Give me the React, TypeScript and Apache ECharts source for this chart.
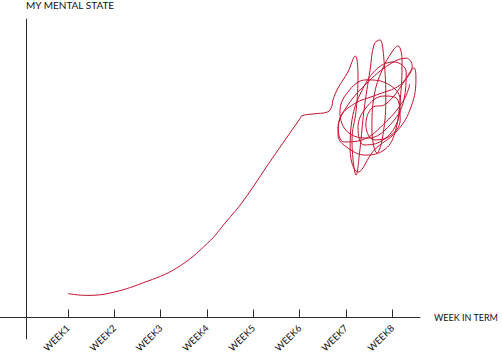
import React, { useEffect, useRef } from "react";
import * as echarts from "echarts";

// Tick labels along the x axis (weeks of term)
const weekTicks = [1, 2, 3, 4, 5, 6, 7, 8];
const weekLabels = ["WEEK1", "WEEK2", "WEEK3", "WEEK4", "WEEK5", "WEEK6", "WEEK7", "WEEK8"];

// Smooth rise: [week, mental state]
const riseWeeks = [1.0, 1.4, 1.91, 2.62, 3.35, 4.02, 4.41, 4.78, 5.4, 6.01, 6.05, 6.29, 6.61, 6.69, 6.72];
const riseValues = [8.0, 7.4, 8.2, 11.6, 16.6, 25.0, 32.0, 39.0, 53.1, 66.7, 67.6, 68.2, 68.9, 70.6, 72.9];

// The scribble: [week, mental state]
const scribbleWeeks = [
  6.83, 7.04, 7.2, 7.26, 7.22, 7.13, 7.22, 7.3, 7.39, 7.52, 7.61, 7.73, 7.82, 7.86, 7.78, 7.67,
  7.56, 7.61, 7.78, 7.99, 8.12, 8.21, 8.17, 8.04, 7.82, 7.43, 7.04, 6.83, 6.87, 7.17, 7.65, 8.17,
  8.47, 8.51, 8.38, 8.08, 7.61, 7.26, 7.09, 7.13, 7.35, 7.69, 8.04, 8.3, 8.25, 7.95, 7.48, 7.04,
  6.87, 7.04, 7.43, 7.91, 8.17, 8.08, 7.73, 7.39, 7.26, 7.43, 7.82, 8.12, 8.17, 7.95, 7.61, 7.43,
  7.56, 7.86, 8.25, 8.43, 8.3, 7.95, 7.43, 7.0, 6.83, 6.96, 7.35, 7.86, 8.25, 8.38,
];
const scribbleValues = [
  76.9, 82.2, 87.6, 81.2, 69.5, 59.5, 47.7, 56.1, 69.5, 82.9, 91.6, 93.0, 86.3, 72.9, 59.5, 55.1,
  62.8, 74.5, 82.9, 88.9, 91.0, 86.3, 72.9, 61.1, 56.1, 54.4, 56.8, 61.1, 66.8, 71.5, 74.5, 77.9,
  83.6, 79.6, 69.5, 62.1, 56.1, 48.7, 56.1, 66.2, 76.2, 83.6, 85.6, 82.2, 72.9, 64.5, 60.1, 62.1,
  68.8, 75.5, 79.6, 78.2, 72.9, 64.5, 58.8, 57.8, 63.5, 70.2, 74.2, 72.9, 66.2, 60.8, 59.5, 64.5,
  70.2, 71.5, 78.9, 84.3, 86.9, 84.9, 78.2, 70.2, 63.5, 58.8, 59.5, 65.5, 72.9, 78.2,
];

const FONT = "Lato";
const AXIS_COLOR = "#2b2b2b";
const LINE_COLOR = "#c4122f";

export default function App() {
  const ref = useRef<HTMLDivElement>(null);

  useEffect(() => {
    document.body.style.margin = "0";
    if (!ref.current) return;
    const chart = echarts.init(ref.current, null, { renderer: "svg" });

    const data: number[][] = [];
    riseWeeks.forEach((w, i) => data.push([w, riseValues[i]]));
    scribbleWeeks.forEach((w, i) => data.push([w, scribbleValues[i]]));

    chart.setOption({
      animation: false,
      backgroundColor: "#ffffff",
      grid: [
        // main plotting grid; its bottom edge is the x axis
        { left: 0, right: 82, top: 19, bottom: 36.5, containLabel: false, outerBoundsMode: "none" },
        // grid that only carries the long vertical axis line
        { left: 26, width: 1, top: 19, bottom: 15, containLabel: false, outerBoundsMode: "none" },
      ],
      xAxis: [
        {
          type: "value",
          gridIndex: 0,
          min: -0.4676,
          max: 8.598,
          name: "WEEK IN TERM",
          nameLocation: "end",
          nameGap: 14,
          nameMoveOverlap: false,
          nameTextStyle: { fontFamily: FONT, fontSize: 9, color: "#111", verticalAlign: "middle", padding: [5, 0, 0, 0] },
          axisLine: { onZero: false, lineStyle: { color: AXIS_COLOR, width: 1 } },
          axisTick: { show: true, inside: true, length: 8, customValues: weekTicks, lineStyle: { color: AXIS_COLOR, width: 1 } },
          axisLabel: {
            show: true,
            customValues: weekTicks,
            rotate: 45,
            margin: 9,
            fontFamily: FONT,
            fontSize: 9.5,
            color: "#111",
            formatter: (v: number) => weekLabels[Math.round(v) - 1] ?? "",
          },
          splitLine: { show: false },
        },
        {
          type: "value",
          gridIndex: 1,
          show: false,
        },
      ],
      yAxis: [
        {
          type: "value",
          gridIndex: 0,
          min: 0,
          max: 100,
          show: false,
        },
        {
          type: "value",
          gridIndex: 1,
          min: 0,
          max: 100,
          name: "MY MENTAL STATE",
          nameLocation: "end",
          nameGap: 9,
          nameMoveOverlap: false,
          nameTextStyle: { fontFamily: FONT, fontSize: 10, color: "#111", align: "left", verticalAlign: "bottom" },
          axisLine: { show: true, onZero: false, lineStyle: { color: AXIS_COLOR, width: 1 } },
          axisTick: { show: false },
          axisLabel: { show: false },
          splitLine: { show: false },
        },
      ],
      series: [
        {
          type: "line",
          xAxisIndex: 0,
          yAxisIndex: 0,
          data,
          smooth: 0.4,
          symbol: "none",
          lineStyle: { color: LINE_COLOR, width: 1 },
        },
      ],
    });

    return () => chart.dispose();
  }, []);

  return <div ref={ref} style={{ width: 502, height: 354 }} />;
}
